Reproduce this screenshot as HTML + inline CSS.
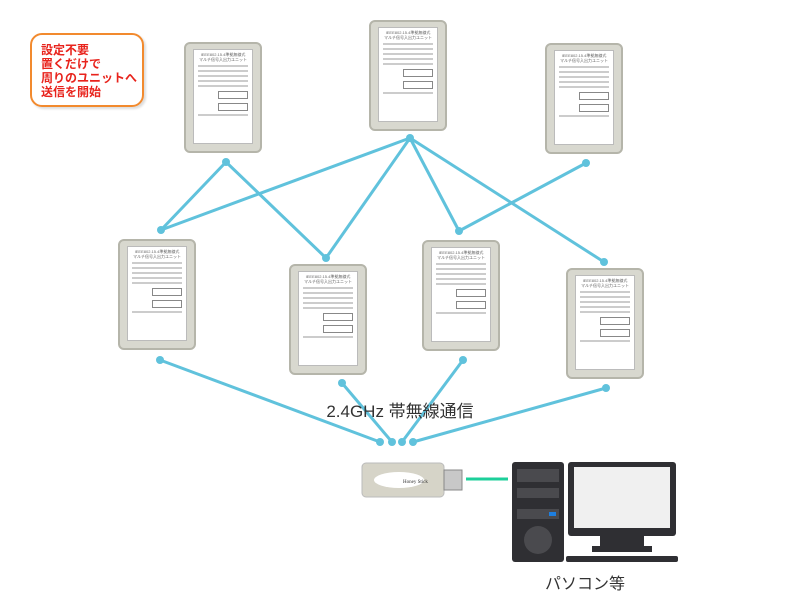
<!DOCTYPE html>
<html><head><meta charset="utf-8"><style>
body{margin:0;width:800px;height:600px;background:#fff;position:relative;overflow:hidden;font-family:"Liberation Sans","Noto Sans CJK JP",sans-serif}
.d{position:absolute;width:78px;height:111px;background:#d8d8cf;border:2px solid #b5b5aa;border-radius:6px;box-sizing:border-box}
.d .p{position:absolute;left:7px;top:5px;right:7px;bottom:7px;background:#fff;border:1px solid #bbb;font-size:4px;line-height:5px;color:#666;padding:2px;overflow:hidden}
.d .l{height:2px;background:#ccc;margin:3px 2px}
.d .b{border:1px solid #888;height:6px;margin:4px 2px 0 22px}
.callout{position:absolute;left:30px;top:33px;width:114px;height:74px;border:2px solid #f28a2e;border-radius:12px;color:#e8231c;font-weight:bold;font-size:12px;line-height:14px;padding:8px 0 0 9px;box-sizing:border-box;box-shadow:2px 2px 2px #ddd}
</style></head><body>
<svg width="800" height="600" style="position:absolute;left:0;top:0">
<g stroke="#60c2dc" stroke-width="3" fill="none">
<line x1="410" y1="138" x2="161" y2="230"/><line x1="410" y1="138" x2="326" y2="258"/>
<line x1="410" y1="138" x2="459" y2="231"/><line x1="410" y1="138" x2="604" y2="262"/>
<line x1="226" y1="162" x2="161" y2="230"/><line x1="226" y1="162" x2="326" y2="258"/>
<line x1="586" y1="163" x2="459" y2="231"/>
<line x1="160" y1="360" x2="380" y2="442"/><line x1="342" y1="383" x2="392" y2="442"/>
<line x1="463" y1="360" x2="402" y2="442"/><line x1="606" y1="388" x2="413" y2="442"/>
</g>
<g fill="#60c2dc">
<circle cx="410" cy="138" r="4"/><circle cx="226" cy="162" r="4"/><circle cx="586" cy="163" r="4"/>
<circle cx="161" cy="230" r="4"/><circle cx="326" cy="258" r="4"/><circle cx="459" cy="231" r="4"/><circle cx="604" cy="262" r="4"/>
<circle cx="160" cy="360" r="4"/><circle cx="342" cy="383" r="4"/><circle cx="463" cy="360" r="4"/><circle cx="606" cy="388" r="4"/>
<circle cx="380" cy="442" r="4"/><circle cx="392" cy="442" r="4"/><circle cx="402" cy="442" r="4"/><circle cx="413" cy="442" r="4"/>
</g>
<line x1="466" y1="479" x2="508" y2="479" stroke="#1ccf9a" stroke-width="3"/>
<!-- dongle -->
<rect x="362" y="463" width="82" height="34" rx="4" fill="#d6d4c8" stroke="#bbb"/>
<rect x="444" y="470" width="18" height="20" fill="#c8c8c8" stroke="#888"/>
<ellipse cx="399" cy="480" rx="25" ry="8" fill="#fff"/>
<text x="403" y="483" font-size="5" font-family="Liberation Serif,serif" fill="#333">Honey Stick</text>
<!-- tower -->
<rect x="512" y="462" width="52" height="100" rx="3" fill="#2f2f33"/>
<rect x="517" y="469" width="42" height="13" fill="#4a4a4e"/>
<rect x="517" y="488" width="42" height="10" fill="#4a4a4e"/>
<rect x="517" y="509" width="42" height="10" fill="#4a4a4e"/>
<rect x="549" y="512" width="7" height="4" fill="#1e7fe0"/>
<circle cx="538" cy="540" r="14" fill="#4a4a4e"/>
<!-- monitor -->
<rect x="568" y="462" width="108" height="74" rx="3" fill="#2f2f33"/>
<rect x="574" y="467" width="96" height="61" fill="#f0f0f0"/>
<rect x="600" y="536" width="44" height="13" fill="#2f2f33"/>
<rect x="592" y="546" width="60" height="6" fill="#2f2f33"/>
<rect x="566" y="556" width="112" height="6" rx="2" fill="#2f2f33"/>
<text x="400" y="417" text-anchor="middle" font-size="17" fill="#333" font-family="Liberation Sans,Noto Sans CJK JP,sans-serif">2.4GHz 帯無線通信</text>
<text x="585" y="589" text-anchor="middle" font-size="16" fill="#333" font-family="Liberation Sans,Noto Sans CJK JP,sans-serif">パソコン等</text>
</svg>
<div class="callout">設定不要<br>置くだけで<br>周りのユニットへ<br>送信を開始</div>

<div class="d" style="left:184px;top:42px"><div class="p"><div style="text-align:center">IEEE802.15.4準拠無線式<br>マルチ信号入出力ユニット</div><div class="l"></div><div class="l"></div><div class="l"></div><div class="l"></div><div class="l"></div><div class="b"></div><div class="b"></div><div class="l"></div></div></div>
<div class="d" style="left:369px;top:20px"><div class="p"><div style="text-align:center">IEEE802.15.4準拠無線式<br>マルチ信号入出力ユニット</div><div class="l"></div><div class="l"></div><div class="l"></div><div class="l"></div><div class="l"></div><div class="b"></div><div class="b"></div><div class="l"></div></div></div>
<div class="d" style="left:545px;top:43px"><div class="p"><div style="text-align:center">IEEE802.15.4準拠無線式<br>マルチ信号入出力ユニット</div><div class="l"></div><div class="l"></div><div class="l"></div><div class="l"></div><div class="l"></div><div class="b"></div><div class="b"></div><div class="l"></div></div></div>
<div class="d" style="left:118px;top:239px"><div class="p"><div style="text-align:center">IEEE802.15.4準拠無線式<br>マルチ信号入出力ユニット</div><div class="l"></div><div class="l"></div><div class="l"></div><div class="l"></div><div class="l"></div><div class="b"></div><div class="b"></div><div class="l"></div></div></div>
<div class="d" style="left:289px;top:264px"><div class="p"><div style="text-align:center">IEEE802.15.4準拠無線式<br>マルチ信号入出力ユニット</div><div class="l"></div><div class="l"></div><div class="l"></div><div class="l"></div><div class="l"></div><div class="b"></div><div class="b"></div><div class="l"></div></div></div>
<div class="d" style="left:422px;top:240px"><div class="p"><div style="text-align:center">IEEE802.15.4準拠無線式<br>マルチ信号入出力ユニット</div><div class="l"></div><div class="l"></div><div class="l"></div><div class="l"></div><div class="l"></div><div class="b"></div><div class="b"></div><div class="l"></div></div></div>
<div class="d" style="left:566px;top:268px"><div class="p"><div style="text-align:center">IEEE802.15.4準拠無線式<br>マルチ信号入出力ユニット</div><div class="l"></div><div class="l"></div><div class="l"></div><div class="l"></div><div class="l"></div><div class="b"></div><div class="b"></div><div class="l"></div></div></div>
</body></html>
